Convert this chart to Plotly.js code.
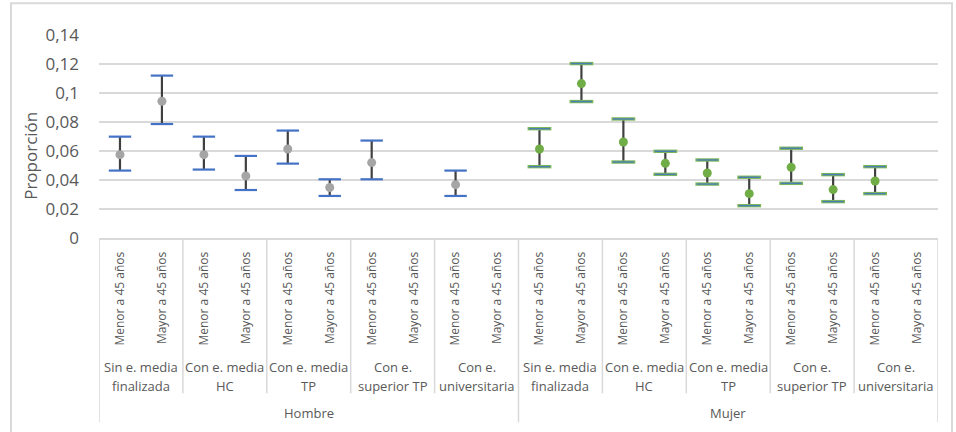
<!DOCTYPE html>
<html>
<head>
<meta charset="utf-8">
<script src="https://cdn.plot.ly/plotly-3.0.1.min.js"></script>
<style>
  html, body { margin: 0; padding: 0; background: #ffffff; }
  #chart { width: 956px; height: 432px; }
</style>
</head>
<body>
<div id="chart"></div>
<script>
// Category levels of the x axis
const sexes = ['Hombre', 'Mujer'];
const levels = [
  ['Sin e. media', 'finalizada'],
  ['Con e. media', 'HC'],
  ['Con e. media', 'TP'],
  ['Con e.', 'superior TP'],
  ['Con e.', 'universitaria']
];
const ages = ['Menor a 45 años', 'Mayor a 45 años'];

// Proportions with their confidence interval limits (null = no estimate)
const hombreProp = [0.0575, 0.0943, 0.0575, 0.0428, 0.0614, 0.0348, 0.0520, null, 0.0368, null];
const hombreLow  = [0.0465, 0.0786, 0.0472, 0.0331, 0.0513, 0.0290, 0.0405, null, 0.0290, null];
const hombreHigh = [0.0699, 0.1120, 0.0699, 0.0566, 0.0741, 0.0405, 0.0672, null, 0.0465, null];

const mujerProp = [0.0614, 0.1065, 0.0662, 0.0515, 0.0448, 0.0306, 0.0488, 0.0334, 0.0393, null];
const mujerLow  = [0.0492, 0.0941, 0.0524, 0.0439, 0.0372, 0.0223, 0.0377, 0.0251, 0.0306, null];
const mujerHigh = [0.0754, 0.1203, 0.0821, 0.0598, 0.0538, 0.0419, 0.0619, 0.0437, 0.0492, null];

// Y axis ticks
const yTickVals = [0, 0.02, 0.04, 0.06, 0.08, 0.1, 0.12, 0.14];
const yTickText = ['0', '0,02', '0,04', '0,06', '0,08', '0,1', '0,12', '0,14'];

const FONT = '"Open Sans", "Liberation Sans", sans-serif';
const TXT = '#595959';
const GRID = '#D9D9D9';

// Flat category index list: sex -> level -> age
const xIdx = [];
const xText = [];
sexes.forEach(() => levels.forEach(() => ages.forEach(a => { xIdx.push(xIdx.length); xText.push(a); })));
const perSex = levels.length * ages.length;

function seriesTraces(offset, prop, low, high, markerColor, capLayers) {
  const xs = prop.map((_, i) => offset + i);
  const traces = [];
  // vertical interval stems
  traces.push({
    type: 'scatter', mode: 'markers', x: xs, y: prop,
    marker: { size: 1, opacity: 0 },
    error_y: {
      type: 'data', symmetric: false,
      array: prop.map((v, i) => v == null ? null : high[i] - v),
      arrayminus: prop.map((v, i) => v == null ? null : v - low[i]),
      color: '#404040', thickness: 2.2, width: 0
    },
    hoverinfo: 'skip', showlegend: false
  });
  // end caps at both limits
  capLayers.forEach(c => {
    traces.push({
      type: 'scatter', mode: 'markers',
      x: xs.concat(xs), y: low.concat(high),
      marker: { symbol: 'line-ew', size: c.size, line: { color: c.color, width: c.width } },
      hoverinfo: 'skip', showlegend: false
    });
  });
  // point estimates
  traces.push({
    type: 'scatter', mode: 'markers', x: xs, y: prop,
    marker: { symbol: 'circle', size: 9, color: markerColor, line: { width: 0 } },
    showlegend: false
  });
  return traces;
}

const data = [].concat(
  seriesTraces(0, hombreProp, hombreLow, hombreHigh, '#A5A5A5',
    [{ size: 16, color: '#4472C4', width: 2.2 }]),
  seriesTraces(perSex, mujerProp, mujerLow, mujerHigh, '#70AD47',
    [{ size: 17, color: '#7DB65A', width: 3.4 }, { size: 15, color: '#4A7FB5', width: 1.4 }])
);

// Category table below the plot: separators and labels
const shapes = [];
const annotations = [];
const innerBottom = -0.765;
const outerBottom = -0.908;

for (let g = 0; g <= sexes.length * levels.length; g++) {
  const xb = g * ages.length - 0.5;
  const outer = g % levels.length === 0;
  shapes.push({
    type: 'line', xref: 'x', yref: 'paper',
    x0: xb, x1: xb, y0: 0, y1: outer ? outerBottom : innerBottom,
    line: { color: GRID, width: 1.5 }
  });
}

sexes.forEach((s, si) => {
  levels.forEach((lv, li) => {
    const center = si * perSex + li * ages.length + (ages.length - 1) / 2;
    lv.forEach((line, k) => {
      annotations.push({
        xref: 'x', yref: 'paper', x: center, y: -0.634 - k * 0.094,
        text: line, showarrow: false, xanchor: 'center', yanchor: 'middle',
        font: { family: FONT, size: 13, color: TXT }
      });
    });
  });
  annotations.push({
    xref: 'x', yref: 'paper', x: si * perSex + (perSex - 1) / 2, y: -0.862,
    text: s, showarrow: false, xanchor: 'center', yanchor: 'middle',
    font: { family: FONT, size: 13, color: TXT }
  });
});

// Y axis title
annotations.push({
  xref: 'paper', yref: 'paper', x: -0.081, y: 0.405,
  text: 'Proporción', textangle: -90, showarrow: false,
  xanchor: 'center', yanchor: 'middle',
  font: { family: FONT, size: 17, color: TXT }
});

// Outer chart frame
shapes.push({
  type: 'rect', xref: 'paper', yref: 'paper',
  x0: -0.1049, x1: 1.0167, y0: -1.3, y1: 1.156,
  line: { color: GRID, width: 2 }, fillcolor: 'rgba(0,0,0,0)', layer: 'below'
});

const layout = {
  width: 956, height: 432,
  margin: { l: 99, r: 18, t: 35, b: 194, pad: 0 },
  paper_bgcolor: '#ffffff', plot_bgcolor: '#ffffff',
  showlegend: false,
  font: { family: FONT, color: TXT },
  xaxis: {
    type: 'linear', range: [-0.5, xIdx.length - 0.5],
    tickmode: 'array', tickvals: xIdx, ticktext: xText, tickangle: -90,
    tickfont: { family: FONT, size: 12, color: TXT },
    ticks: '', ticklabelstandoff: 7,
    showgrid: false, zeroline: false,
    showline: true, linecolor: GRID, linewidth: 2,
    fixedrange: true
  },
  yaxis: {
    range: [0, 0.14],
    tickmode: 'array', tickvals: yTickVals, ticktext: yTickText,
    tickfont: { family: FONT, size: 17, color: TXT },
    ticks: '', ticklabelstandoff: 19,
    showgrid: true, gridcolor: GRID, gridwidth: 2,
    zeroline: false, showline: false,
    fixedrange: true
  },
  shapes: shapes,
  annotations: annotations
};

Plotly.newPlot('chart', data, layout, { displayModeBar: false, staticPlot: true });
</script>
</body>
</html>
